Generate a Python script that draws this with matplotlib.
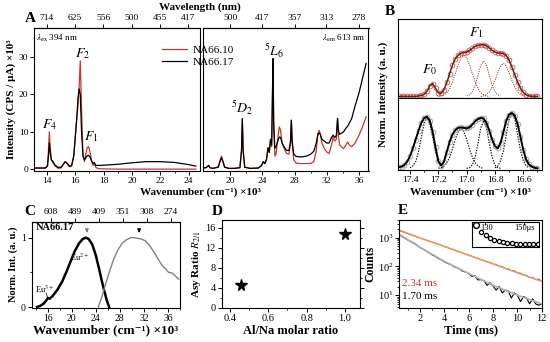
import matplotlib
import matplotlib.pyplot as plt
from matplotlib.ticker import MultipleLocator

matplotlib.use("Agg")

plt.rcParams["font.family"] = ["Liberation Serif", "DejaVu Serif"]
plt.rcParams["mathtext.fontset"] = "stix"
plt.rcParams["font.size"] = 7
plt.rcParams["axes.linewidth"] = 0.8

RED = "#c0392b"

# ---------------- Panel A: emission (left) and excitation (right) spectra
em_x = [13.2, 13.9, 14.05, 14.12, 14.18, 14.24, 14.32, 14.45, 14.6, 14.8, 15.0,
        15.15, 15.3, 15.45, 15.6, 15.75, 15.9, 16.0, 16.1, 16.2, 16.28, 16.36,
        16.45, 16.55, 16.65, 16.75, 16.85, 16.95, 17.05, 17.15, 17.25, 17.35,
        17.45, 17.6, 17.8, 18.2, 19.0, 20.0, 21.0, 22.0, 23.0, 24.0, 24.5]
em_na6610 = [0.3, 0.3, 1.0, 5.0, 10.0, 6.0, 2.5, 1.6, 0.8, 0.2, 0.3,
             1.2, 2.0, 1.4, 0.6, 0.8, 3.5, 8.5, 13.0, 17.0, 22.0, 29.0,
             16.0, 4.0, 2.0, 4.0, 5.8, 6.0, 4.5, 2.5, 1.0, 1.4,
             0.5, 0.2, 0.1, 0.05, 0.0, 0.0, 0.0, 0.0, 0.0, 0.0, 0.0]
em_na6617 = [0.3, 0.3, 0.8, 3.5, 7.0, 4.5, 2.5, 2.0, 1.0, 0.5, 0.5,
             1.2, 2.0, 1.5, 0.8, 1.0, 3.5, 8.0, 13.0, 19.0, 21.5, 20.0,
             10.0, 3.5, 2.5, 3.0, 3.6, 3.7, 3.2, 2.2, 1.5, 1.8,
             1.0, 1.0, 1.0, 1.1, 1.3, 1.7, 2.0, 2.0, 1.8, 1.2, 0.8]

ex_x = [16.6, 17.0, 17.2, 17.3, 17.45, 17.8, 18.5, 18.75, 18.9, 19.05, 19.3,
        19.8, 20.5, 21.2, 21.4, 21.5, 21.6, 21.8, 22.5, 23.5, 23.9, 24.1,
        24.3, 24.5, 24.7, 24.85, 25.0, 25.15, 25.25, 25.32, 25.4, 25.55,
        25.7, 25.9, 26.1, 26.25, 26.45, 26.7, 27.0, 27.3, 27.5, 27.6, 27.7,
        27.9, 28.2, 28.6, 29.0, 29.5, 30.0, 30.4, 30.7, 30.9, 31.05, 31.2,
        31.4, 31.7, 32.0, 32.3, 32.6, 32.8, 33.0, 33.2, 33.35, 33.45, 33.6,
        33.8, 34.1, 34.4, 34.6, 34.8, 35.1, 35.5, 36.0, 36.4, 36.9]
ex_na6610 = [0.3, 0.4, 0.8, 1.0, 0.4, 0.2, 0.6, 2.5, 3.5, 2.5, 0.6,
             0.2, 0.2, 0.4, 5.0, 13.5, 5.0, 0.5, 0.2, 0.3, 1.0, 2.0,
             1.5, 2.5, 5.5, 4.5, 7.5, 6.0, 20.0, 29.6, 12.0, 3.5,
             4.0, 8.0, 11.3, 10.5, 7.0, 5.5, 4.2, 4.0, 7.0, 13.1, 7.0,
             2.5, 1.6, 1.5, 1.5, 1.5, 1.5, 2.0, 5.0, 9.5, 10.4, 9.5,
             7.0, 5.5, 4.6, 4.2, 6.5, 8.6, 7.5, 8.0, 13.6, 9.0, 6.5,
             6.0, 5.5, 6.5, 7.3, 6.5, 6.0, 6.9, 9.0, 11.0, 14.0]
ex_na6617 = [0.3, 0.4, 0.8, 1.0, 0.4, 0.2, 0.5, 2.2, 3.0, 2.2, 0.5,
             0.2, 0.2, 0.4, 5.0, 13.5, 5.0, 0.5, 0.2, 0.3, 1.0, 2.0,
             1.5, 2.5, 5.8, 4.5, 8.0, 6.5, 20.0, 29.6, 12.0, 5.6,
             6.0, 7.5, 8.6, 8.5, 7.0, 6.0, 5.0, 5.0, 7.5, 13.1, 7.5,
             4.0, 3.4, 3.3, 3.3, 3.5, 4.0, 4.8, 7.0, 9.3, 9.7, 9.3,
             8.0, 7.5, 7.0, 7.0, 8.5, 9.1, 8.5, 9.0, 13.6, 10.5, 9.3,
             9.6, 10.0, 11.0, 11.5, 12.3, 13.5, 16.7, 20.3, 23.8, 28.3]

wl_left = [714, 625, 556, 500, 455, 417]
wl_right = [500, 417, 357, 313, 278]

# ---------------- Panel B: high-resolution 5D0->7F0,1 region
b_x = [17.48, 17.46, 17.44, 17.42, 17.40, 17.38, 17.36, 17.34, 17.32, 17.30,
       17.28, 17.26, 17.24, 17.22, 17.20, 17.18, 17.16, 17.14, 17.12, 17.10,
       17.08, 17.06, 17.04, 17.02, 17.00, 16.98, 16.96, 16.94, 16.92, 16.90,
       16.88, 16.86, 16.84, 16.82, 16.80, 16.78, 16.76, 16.74, 16.72, 16.70,
       16.68, 16.66, 16.64, 16.62, 16.60, 16.58, 16.56, 16.54, 16.52, 16.50]
b_na6610 = [0.0, 0.0, 0.0, 0.0, 0.0, 0.0, 0.0, 0.01, 0.02, 0.04,
            0.10, 0.21, 0.25, 0.16, 0.07, 0.06, 0.13, 0.27, 0.44, 0.61,
            0.73, 0.80, 0.84, 0.85, 0.86, 0.89, 0.93, 0.97, 0.99, 1.00,
            1.00, 0.98, 0.94, 0.89, 0.86, 0.84, 0.84, 0.83, 0.79, 0.70,
            0.57, 0.42, 0.28, 0.16, 0.08, 0.03, 0.01, 0.0, 0.0, 0.0]
b_na6617 = [0.02, 0.03, 0.06, 0.12, 0.22, 0.36, 0.52, 0.68, 0.82, 0.91,
            0.93, 0.86, 0.66, 0.38, 0.13, 0.05, 0.12, 0.30, 0.48, 0.61,
            0.69, 0.73, 0.74, 0.73, 0.72, 0.74, 0.79, 0.85, 0.89, 0.91,
            0.90, 0.82, 0.68, 0.52, 0.40, 0.36, 0.46, 0.66, 0.86, 0.97,
            1.00, 0.95, 0.80, 0.57, 0.33, 0.16, 0.07, 0.03, 0.01, 0.0]

# fitted components (dotted)
b_top_comp = [
    ([17.20, 17.18, 17.16, 17.14, 17.12, 17.10, 17.08, 17.06, 17.04, 17.02,
      17.00, 16.98, 16.96, 16.94, 16.92, 16.90, 16.88, 16.86, 16.84],
     [0.00, 0.01, 0.03, 0.07, 0.15, 0.28, 0.44, 0.61, 0.75, 0.80,
      0.75, 0.61, 0.44, 0.28, 0.15, 0.07, 0.03, 0.01, 0.00]),
    ([17.00, 16.98, 16.96, 16.94, 16.92, 16.90, 16.88, 16.86, 16.84, 16.82,
      16.80, 16.78, 16.76],
     [0.01, 0.03, 0.09, 0.22, 0.41, 0.60, 0.68, 0.60, 0.41, 0.22,
      0.09, 0.03, 0.01]),
    ([16.90, 16.88, 16.86, 16.84, 16.82, 16.80, 16.78, 16.76, 16.74, 16.72,
      16.70, 16.68, 16.66, 16.64, 16.62, 16.60, 16.58],
     [0.00, 0.01, 0.04, 0.09, 0.18, 0.31, 0.46, 0.59, 0.64, 0.59,
      0.46, 0.31, 0.18, 0.09, 0.04, 0.01, 0.00]),
]
b_bot_comp = [
    ([17.40, 17.38, 17.36, 17.34, 17.32, 17.30, 17.28, 17.26, 17.24, 17.22,
      17.20, 17.18, 17.16],
     [0.01, 0.04, 0.12, 0.30, 0.56, 0.81, 0.92, 0.81, 0.56, 0.30,
      0.12, 0.04, 0.01]),
    ([17.20, 17.18, 17.16, 17.14, 17.12, 17.10, 17.08, 17.06, 17.04, 17.02,
      17.00, 16.98, 16.96, 16.94, 16.92, 16.90, 16.88],
     [0.00, 0.01, 0.04, 0.10, 0.20, 0.35, 0.52, 0.66, 0.72, 0.66,
      0.52, 0.35, 0.20, 0.10, 0.04, 0.01, 0.00]),
    ([17.00, 16.98, 16.96, 16.94, 16.92, 16.90, 16.88, 16.86, 16.84, 16.82,
      16.80, 16.78, 16.76],
     [0.00, 0.01, 0.06, 0.20, 0.45, 0.73, 0.86, 0.73, 0.45, 0.20,
      0.06, 0.01, 0.00]),
    ([16.80, 16.78, 16.76, 16.74, 16.72, 16.70, 16.68, 16.66, 16.64, 16.62,
      16.60, 16.58, 16.56],
     [0.01, 0.04, 0.14, 0.32, 0.61, 0.88, 1.00, 0.88, 0.61, 0.32,
      0.14, 0.04, 0.01]),
]

# ---------------- Panel C: Eu2+ emission / excitation of NA66.17
c_em_x = [14.2, 14.8, 15.3, 15.7, 16.0, 16.3, 16.8, 17.6, 18.4, 19.1, 19.8,
          20.5, 21.2, 21.8, 22.3, 22.8, 23.4, 24.0, 24.5, 25.0, 25.4, 25.8, 26.2]
c_em_y = [0.0, 0.02, 0.05, 0.09, 0.13, 0.12, 0.16, 0.25, 0.37, 0.51, 0.66,
          0.81, 0.92, 0.98, 1.0, 0.98, 0.9, 0.74, 0.56, 0.37, 0.23, 0.1, 0.0]
c_ex_x = [24.4, 25.0, 25.6, 26.3, 27.0, 27.7, 28.4, 29.1, 29.8, 30.4, 30.9,
          31.6, 32.3, 33.0, 33.6, 34.3, 35.0, 35.6, 36.1, 36.7, 37.2, 37.8]
c_ex_y = [0.0, 0.15, 0.33, 0.52, 0.70, 0.83, 0.92, 0.97, 1.0, 1.0, 0.99,
          0.98, 0.95, 0.88, 0.8, 0.7, 0.6, 0.55, 0.5, 0.49, 0.45, 0.4]
wl_c = [608, 489, 409, 351, 308, 274]

# ---------------- Panel D: asymmetry ratio
d_ratio = [0.46, 1.0]
d_asy = [4.5, 14.7]

# ---------------- Panel E: decay curves
e_t = [0.25, 0.5, 0.75, 1.0, 1.25, 1.5, 1.75, 2.0, 2.25, 2.5, 2.75, 3.0,
       3.25, 3.5, 3.75, 4.0, 4.25, 4.5, 4.75, 5.0, 5.25, 5.5, 5.75, 6.0,
       6.25, 6.5, 6.75, 7.0, 7.25, 7.5, 7.75, 8.0, 8.25, 8.5, 8.75, 9.0,
       9.25, 9.5, 9.75, 10.0, 10.25, 10.5, 10.75, 11.0, 11.25, 11.5, 11.75, 12.0]
e_na6610 = [1800, 1650, 1500, 1380, 1270, 1160, 1070, 980, 900, 830, 760, 700,
            640, 590, 540, 490, 455, 415, 385, 345, 320, 290, 270, 245,
            228, 205, 192, 172, 162, 145, 138, 122, 116, 102, 98, 85,
            82, 72, 70, 60, 58, 50, 49, 42, 41, 35, 36, 30]
e_na6617 = [1260, 1120, 960, 830, 740, 640, 550, 450, 400, 345, 300, 250,
            225, 190, 168, 145, 128, 118, 100, 91, 82, 68, 64, 57,
            45, 48, 34, 35, 32, 22, 27, 21, 15, 20, 12, 15,
            14, 8, 12, 10, 6, 9, 8, 5, 7.5, 5, 4.5, 5]
e_fit_t = [0.3, 2, 4, 6, 8, 10, 12]
e_fit_na6610 = [1850, 980, 490, 245, 122, 60, 30]
e_fit_na6617 = [1300, 460, 150, 57, 22, 10, 5]
inset_t = [125.6, 128.2, 130.4, 132.6, 134.8, 137, 139.2, 141.4, 143.6, 145.8,
           148, 150.2, 152.4, 154.6, 156.8]
inset_v = [0.86, 0.6, 0.46, 0.35, 0.27, 0.21, 0.17, 0.14, 0.13, 0.12,
           0.12, 0.12, 0.12, 0.12, 0.12]


def style(ax, size=7):
    ax.tick_params(direction="out", length=3, width=0.7, labelsize=size, pad=1.2)
    ax.tick_params(which="minor", length=1.6, width=0.6)


BOLD = dict(fontweight="bold")

fig = plt.figure(figsize=(5.5, 3.42), dpi=100)

# ---- A
axl = fig.add_axes([0.0618, 0.5, 0.302, 0.418])
axr = fig.add_axes([0.369, 0.5, 0.301, 0.418])
axl.plot(em_x, em_na6610, color=RED, lw=0.9, label="NA66.10")
axl.plot(em_x, em_na6617, color="black", lw=0.9, label="NA66.17")
axr.plot(ex_x, ex_na6610, color=RED, lw=0.9)
axr.plot(ex_x, ex_na6617, color="black", lw=0.9)
axl.set_xlim(13.1, 24.8)
axr.set_xlim(16.6, 37.2)
for a in (axl, axr):
    a.set_ylim(-0.5, 37.8)
    style(a, 6.8)
axl.set_xticks([14, 16, 18, 20, 22, 24])
axl.xaxis.set_minor_locator(MultipleLocator(1))
axl.set_yticks([0, 10, 20, 30])
axr.set_xticks([20, 24, 28, 32, 36])
axr.xaxis.set_minor_locator(MultipleLocator(2))
axr.tick_params(left=False, labelleft=False)
axl.set_ylabel("Intensity (CPS / μA) ×10³", fontsize=8, labelpad=2, **BOLD)
for a, wl in ((axl, wl_left), (axr, wl_right)):
    top = a.secondary_xaxis("top")
    top.set_xticks([1e4 / w for w in wl], labels=[str(w) for w in wl])
    style(top, 6.8)
axl.text(0.015, 0.97, r"$\lambda_{\rm ex}$ 394 nm", transform=axl.transAxes,
         ha="left", va="top", fontsize=6.5)
axr.text(0.985, 0.97, r"$\lambda_{\rm em}$ 613 nm", transform=axr.transAxes,
         ha="right", va="top", fontsize=6.5)
axl.text(14.2, 11.8, r"$F_4$", ha="center", va="center", fontsize=10)
axl.text(16.5, 31.0, r"$F_2$", ha="center", va="center", fontsize=10)
axl.text(17.1, 8.6, r"$F_1$", ha="center", va="center", fontsize=10)
axr.text(21.5, 16.3, r"$^5D_2$", ha="center", va="center", fontsize=10)
axr.text(25.4, 31.8, r"$^5L_6$", ha="center", va="center", fontsize=10)
fig.legend(loc="upper left", bbox_to_anchor=(158 / 550, 1 - 41 / 342),
           frameon=False, fontsize=8, handlelength=2.2, labelspacing=0.2,
           borderaxespad=0, handletextpad=0.5)
fig.text(200 / 550, 1 - 7 / 342, "Wavelength (nm)", ha="center", va="center",
         fontsize=8, **BOLD)
fig.text(200 / 550, 1 - 192 / 342, "Wavenumber (cm⁻¹) ×10³", ha="center",
         va="center", fontsize=8, **BOLD)

# ---- B
axbt = fig.add_axes([0.7236, 0.7135, 0.2613, 0.231])
axbb = fig.add_axes([0.7236, 0.503, 0.2613, 0.2105], sharex=axbt)
for cx, cy in b_top_comp:
    axbt.plot(cx, cy, color="#8b4a2b", lw=0.7, ls=(0, (1.2, 1.2)))
axbt.plot(b_x, b_na6610, ls="none", marker="o", ms=3.4, mfc="none",
          mec="#e0504a", mew=0.6)
axbt.plot(b_x, b_na6610, color="#5a2a1a", lw=1.1)
for cx, cy in b_bot_comp:
    axbb.plot(cx, cy, color="black", lw=0.8, ls=(0, (1.2, 1.2)))
axbb.plot(b_x, b_na6617, ls="none", marker="o", ms=3.4, mfc="none",
          mec="#9a9a9a", mew=0.6)
axbb.plot(b_x, b_na6617, color="black", lw=1.4)
axbt.set_ylim(-0.03, 1.5)
axbb.set_ylim(-0.03, 1.27)
axbb.set_xlim(17.485, 16.47)
for a in (axbt, axbb):
    style(a, 6.8)
    a.set_yticks([])
axbt.tick_params(bottom=False, labelbottom=False)
axbb.set_xticks([17.4, 17.2, 17.0, 16.8, 16.6])
axbb.xaxis.set_minor_locator(MultipleLocator(0.1))
axbt.text(17.26, 0.52, r"$F_0$", ha="center", va="center", fontsize=10)
axbt.text(16.93, 1.23, r"$F_1$", ha="center", va="center", fontsize=10)
fig.text(383 / 550, (0.503 + 0.9445) / 2, "Norm. Intensity (a. u.)",
         rotation=90, ha="center", va="center", fontsize=8, **BOLD)
fig.text(470 / 550, 1 - 192 / 342, "Wavenumber (cm⁻¹) ×10³", ha="center",
         va="center", fontsize=8, **BOLD)

# ---- C
axc = fig.add_axes([0.0576, 0.1003, 0.2696, 0.2515])
axc.plot(c_em_x, c_em_y, color="black", lw=1.8)
axc.plot(c_ex_x, c_ex_y, color="#808080", lw=1.0)
axc.set_xlim(13.3, 38)
axc.set_ylim(-0.01, 1.23)
style(axc)
axc.set_xticks([16, 20, 24, 28, 32, 36])
axc.xaxis.set_minor_locator(MultipleLocator(2))
axc.set_yticks([0, 1])
axc.yaxis.set_minor_locator(MultipleLocator(0.5))
topc = axc.secondary_xaxis("top")
topc.set_xticks([1e4 / w for w in wl_c], labels=[str(w) for w in wl_c])
style(topc, 6.8)
axc.annotate("", xy=(22.5, 1.03), xytext=(22.5, 1.14),
             arrowprops=dict(arrowstyle="-|>", color="#808080", lw=0.8,
                             mutation_scale=5))
axc.annotate("", xy=(31.2, 1.03), xytext=(31.2, 1.14),
             arrowprops=dict(arrowstyle="-|>", color="black", lw=0.8,
                             mutation_scale=5))
axc.text(0.03, 0.93, "NA66.17", transform=axc.transAxes, ha="left",
         va="center", fontsize=7.5, **BOLD)
axc.text(21.2, 0.72, r"Eu$^{2+}$", ha="center", va="center", fontsize=6)
axc.text(15.5, 0.26, r"Eu$^{3+}$", ha="center", va="center", fontsize=6)
axc.plot([15.7, 16.0], [0.2, 0.13], color="black", lw=0.5)
axc.set_ylabel("Norm. Int. (a. u.)", fontsize=7.5, labelpad=2, **BOLD)
axc.set_xlabel("Wavenumber (cm⁻¹) ×10³", fontsize=9.5, labelpad=1, **BOLD)

# ---- D
axd = fig.add_axes([0.403, 0.0985, 0.2515, 0.258])
axd.plot(d_ratio, d_asy, ls="none", marker="*", ms=8.5, color="black")
axd.set_xlim(0.357, 1.078)
axd.set_ylim(-0.1, 17.5)
style(axd, 7.5)
axd.set_yticks([0, 4, 8, 12, 16])
axd.yaxis.set_minor_locator(MultipleLocator(2))
axd.set_xticks([0.4, 0.6, 0.8, 1.0])
axd.xaxis.set_minor_locator(MultipleLocator(0.1))
axd.tick_params(which="both", right=True)
axd.set_ylabel(r"Asy Ratio $R_{2/1}$", fontsize=8, labelpad=2, **BOLD)
axd.set_xlabel("Al/Na molar ratio", fontsize=9, labelpad=1, **BOLD)

# ---- E
axe = fig.add_axes([0.726, 0.0985, 0.259, 0.258])
axe.plot(e_t, e_na6610, color=RED, lw=0.8)
axe.plot(e_fit_t, e_fit_na6610, color="#e8a060", lw=1.0)
axe.plot(e_t, e_na6617, color="black", lw=0.8)
axe.plot(e_fit_t, e_fit_na6617, color="#b0b0b0", lw=1.2)
axe.set_yscale("log")
axe.set_xlim(0.29, 12)
axe.set_ylim(3.5, 4100)
style(axe, 7.5)
axe.set_xticks([2, 4, 6, 8, 10, 12])
axe.xaxis.set_minor_locator(MultipleLocator(1))
axe.text(0.55, 26, "2.34 ms", color=RED, ha="left", va="center", fontsize=8)
axe.text(0.55, 9, "1.70 ms", color="black", ha="left", va="center", fontsize=8)
axe.set_ylabel("Counts", fontsize=8.5, labelpad=1, **BOLD)
axe.set_xlabel("Time (ms)", fontsize=9, labelpad=1, **BOLD)

axi = fig.add_axes([0.858, 0.279, 0.122, 0.0725])
axi.plot(inset_t[1:], inset_v[1:], ls="none", marker="o", ms=3.0, mfc="none",
         mec="black", mew=0.9)
axi.plot(inset_t[:1], inset_v[:1], ls="none", marker="o", ms=4.2, mfc="none",
         mec="black", mew=1.0)
axi.set_xlim(123.4, 157.5)
axi.set_ylim(0, 1.0)
axi.set_xticks([130, 150])
axi.set_yticks([])
axi.tick_params(direction="in", length=2, width=0.6, top=True, bottom=False,
                labelbottom=False)
axi.text(131, 0.76, "130", ha="center", va="center", fontsize=6)
axi.text(150, 0.76, "150μs", ha="center", va="center", fontsize=6)

# ---- panel letters
for s, x, y in (("A", 25, 25), ("B", 385, 18), ("C", 24, 218), ("D", 212, 218),
                ("E", 398, 217)):
    fig.text(x / 550, 1 - y / 342, s, fontsize=11, ha="left", va="bottom", **BOLD)

fig.savefig("out.png", dpi=100)
